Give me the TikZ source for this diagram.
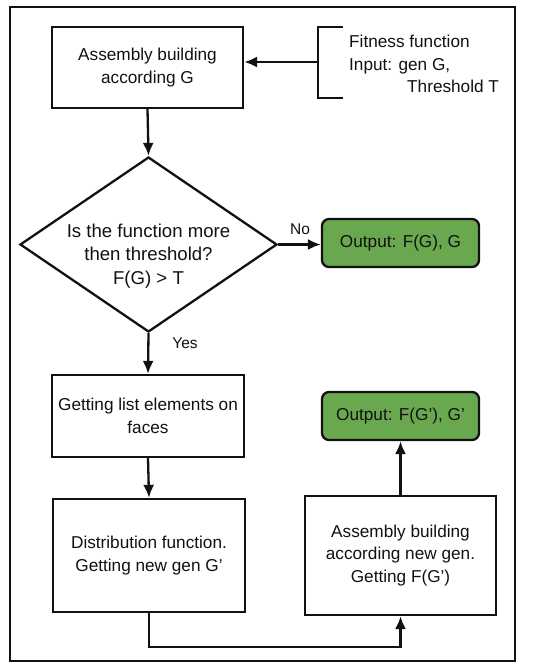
\documentclass[tikz,border=0pt]{standalone}
\usepackage{fontspec}
\setmainfont{Liberation Sans}
\usetikzlibrary{arrows.meta,shapes.geometric}
\definecolor{okgreen}{HTML}{6AA84F}
\definecolor{ink}{HTML}{111111}
\begin{document}
\begin{tikzpicture}[x=1pt,y=-1pt,
  every node/.style={font=\fontsize{17.2}{22.5}\selectfont, text=ink},
  procbox/.style={draw=ink, line width=2.3pt, align=center, inner sep=2pt},
  outbox/.style={draw=ink, line width=2.3pt, fill=okgreen, rounded corners=7pt, align=center,
    minimum width=157pt, minimum height=48pt, inner sep=2pt},
  arr/.style={draw=ink, line width=2.3pt, -{Latex[length=13pt,width=11pt]}},
  lbl/.style={font=\fontsize{15.5}{18}\selectfont}]
\useasboundingbox (0,0) rectangle (546,669);
\draw[ink, line width=2.6pt] (10,7) rectangle (515,661);

\node[procbox, minimum width=191pt, minimum height=81pt] (build) at (147.5,67.5)
  {Assembly building\\according G};

\draw[ink, line width=2.3pt] (343,27) -- (318,27) -- (318,98) -- (343,98);
\coordinate (brk) at (318,62);
\node[anchor=west, align=left, inner sep=0pt] (fit) at (349,64)
  {Fitness function\\Input: gen G,\\\hspace*{58pt}Threshold T};
\draw[arr] (brk) -- (brk -| build.east);

\node[diamond, draw=ink, line width=2.3pt, minimum width=257pt, minimum height=175pt,
  inner sep=0pt] (dec) at (148.5,244.5) {};
\node[align=center, font=\fontsize{18.6}{23.5}\selectfont, inner sep=0pt] (dect) at (148.5,256)
  {Is the function more\\then threshold?\\F(G) > T};
\draw[arr] (build.south) -- (dec.north);

\node[outbox] (out1) at (400.5,243) {Output: F(G), G};
\draw[arr] (dec.east) -- (dec.east -| out1.west);
\node[lbl] (no) at (300,229) {No};

\node[procbox, minimum width=192pt, minimum height=82pt] (list) at (148,416)
  {Getting list elements on\\faces};
\draw[arr] (dec.south) -- (list.north);
\node[lbl] (yes) at (185,343) {Yes};

\node[procbox, minimum width=192pt, minimum height=113pt] (dist) at (149,555.5)
  {Distribution function.\\Getting new gen G'};
\draw[arr] (list.south) -- (dist.north);

\node[procbox, minimum width=191pt, minimum height=119pt] (asm) at (400.5,555.5)
  {Assembly building\\according new gen.\\Getting F(G')};

\node[outbox] (out2) at (400.5,416) {Output: F(G'), G'};
\draw[arr] (asm.north) -- (out2.south);

\draw[arr] (dist.south) -- ++(0,34) -| (asm.south);
\end{tikzpicture}
\end{document}
